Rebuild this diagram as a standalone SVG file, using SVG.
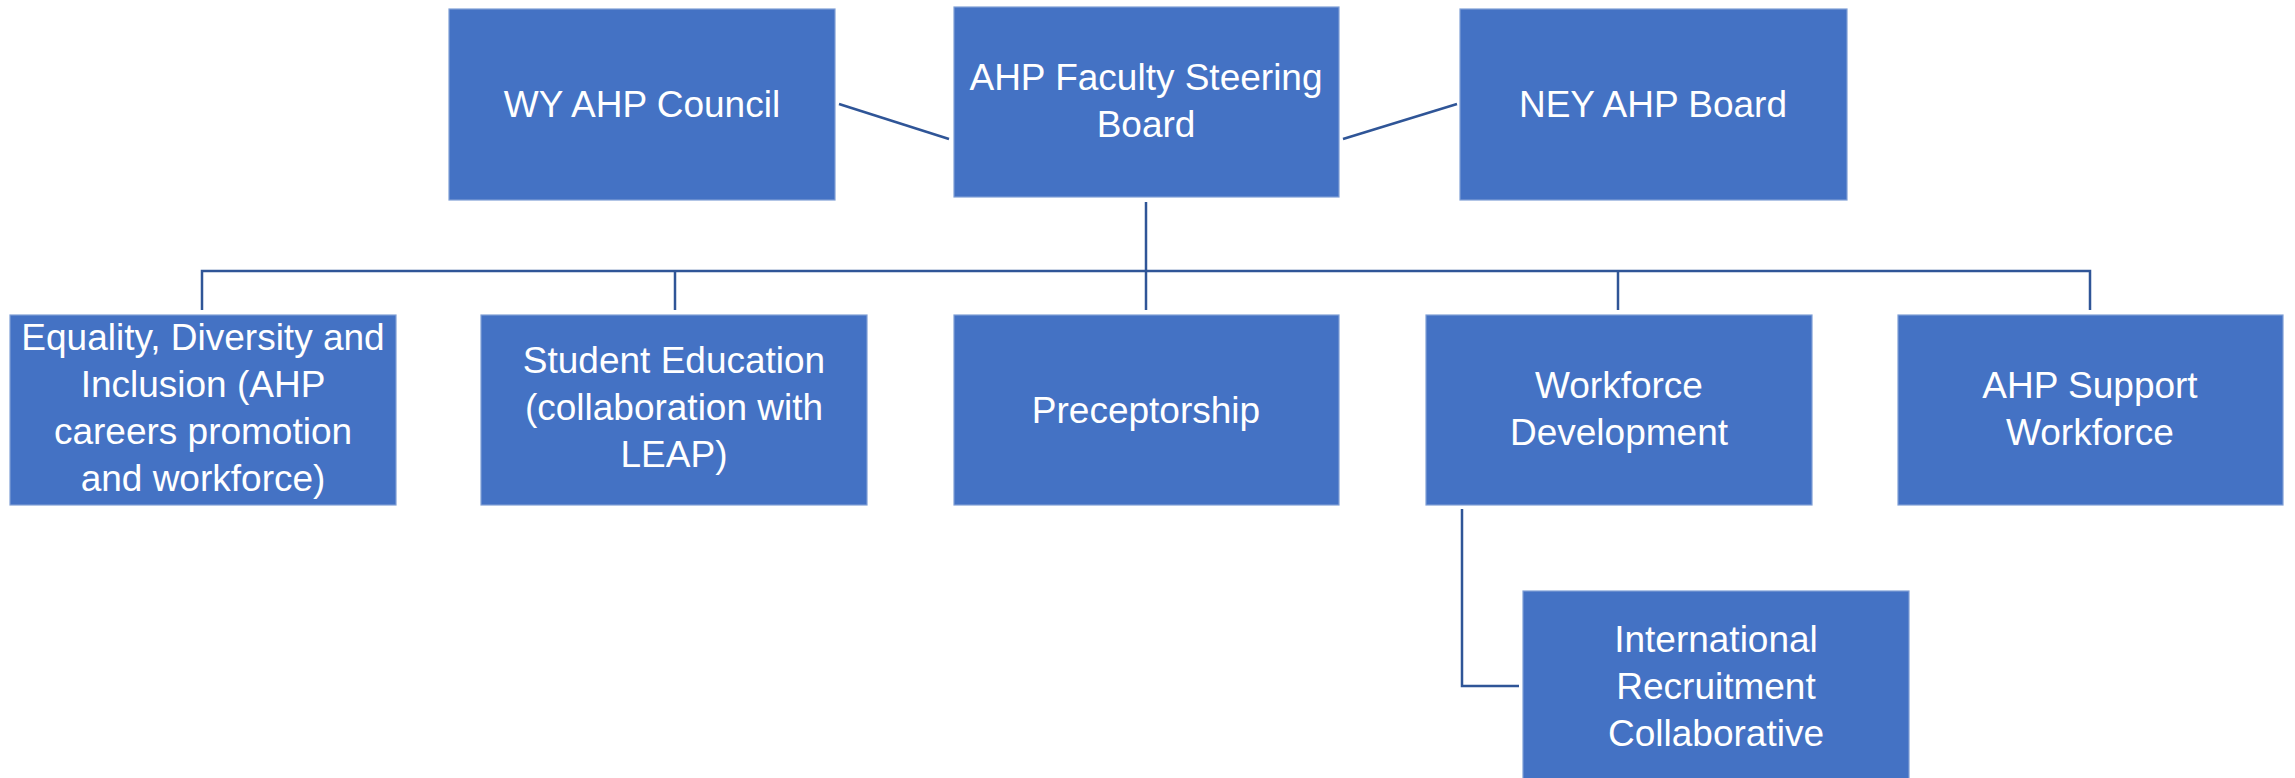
<svg xmlns="http://www.w3.org/2000/svg" width="2295" height="778" viewBox="0 0 2295 778">
<style>
.box{fill:#4472C4;stroke:#7F9FD6;stroke-width:1.2}
.t{font-family:"Liberation Sans",Arial,sans-serif;font-size:37px;fill:#FFFFFF;text-anchor:middle}
.c{fill:none;stroke:#2F5597;stroke-width:2.5}
</style>
<rect width="2295" height="778" fill="#FFFFFF"/>
<g id="connectors">
<line class="c" x1="839" y1="104" x2="949" y2="139"/>
<line class="c" x1="1343" y1="139" x2="1457" y2="104"/>
<polyline class="c" points="1146,202 1146,310"/>
<polyline class="c" points="202,310 202,271 2090,271 2090,310"/>
<line class="c" x1="675" y1="271" x2="675" y2="310"/>
<line class="c" x1="1618" y1="271" x2="1618" y2="310"/>
<polyline class="c" points="1462,509 1462,686 1519,686"/>
</g>
<g id="wy-ahp-council">
<rect class="box" x="449" y="9" width="386" height="191"/>
<text class="t" x="642" y="117">WY AHP Council</text>
</g>
<g id="ahp-faculty-steering-board">
<rect class="box" x="954" y="7" width="385" height="190"/>
<text class="t" x="1146" y="90">AHP Faculty Steering</text>
<text class="t" x="1146" y="137">Board</text>
</g>
<g id="ney-ahp-board">
<rect class="box" x="1460" y="9" width="387" height="191"/>
<text class="t" x="1653" y="117">NEY AHP Board</text>
</g>
<g id="edi">
<rect class="box" x="10" y="315" width="386" height="190"/>
<text class="t" x="203" y="350">Equality, Diversity and</text>
<text class="t" x="203" y="397">Inclusion (AHP</text>
<text class="t" x="203" y="444">careers promotion</text>
<text class="t" x="203" y="491">and workforce)</text>
</g>
<g id="student-education">
<rect class="box" x="481" y="315" width="386" height="190"/>
<text class="t" x="674" y="373">Student Education</text>
<text class="t" x="674" y="420">(collaboration with</text>
<text class="t" x="674" y="467">LEAP)</text>
</g>
<g id="preceptorship">
<rect class="box" x="954" y="315" width="385" height="190"/>
<text class="t" x="1146" y="423">Preceptorship</text>
</g>
<g id="workforce-development">
<rect class="box" x="1426" y="315" width="386" height="190"/>
<text class="t" x="1619" y="398">Workforce</text>
<text class="t" x="1619" y="445">Development</text>
</g>
<g id="ahp-support-workforce">
<rect class="box" x="1898" y="315" width="385" height="190"/>
<text class="t" x="2090" y="398">AHP Support</text>
<text class="t" x="2090" y="445">Workforce</text>
</g>
<g id="international-recruitment-collaborative">
<rect class="box" x="1523" y="591" width="386" height="190"/>
<text class="t" x="1716" y="652">International</text>
<text class="t" x="1716" y="699">Recruitment</text>
<text class="t" x="1716" y="746">Collaborative</text>
</g>
</svg>
